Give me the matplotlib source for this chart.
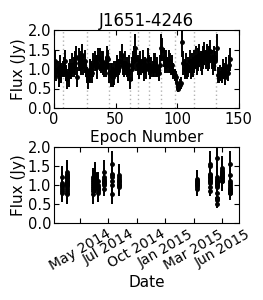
import matplotlib
matplotlib.use('Agg')
import matplotlib.pyplot as plt
import matplotlib.dates as mdates
import numpy as np
import datetime as dt

# flux per epoch (Jy)
flux = [0.85, 1.2, 0.95, 1.0, 0.8, 1.05, 0.9, 1.0,
        1.05, 1.2, 0.9, 0.75, 0.85, 1.0, 0.95, 1.1, 1.05, 1.15, 1.3, 0.8, 1.25, 1.2, 1.05, 1.35, 1.1, 1.2, 1.0,
        0.85, 0.75, 0.95, 1.0, 0.9, 1.1, 1.2, 1.15, 1.05, 1.3, 1.25, 1.1, 1.2, 1.15, 1.0, 1.05, 1.3, 1.25,
        0.9, 0.85, 0.95, 0.8, 0.9, 1.0, 1.1, 0.95, 1.05, 1.2, 1.35, 1.1, 1.0, 1.15, 1.05, 0.9, 1.1,
        0.75, 1.0, 1.2, 1.3, 1.55, 1.25, 1.1,
        1.0, 1.15, 1.05, 1.2, 0.95, 1.1, 1.0, 1.25, 1.1,
        0.95, 1.05, 1.0, 1.1, 1.15, 1.0, 1.05, 0.9, 1.1,
        1.55, 1.5, 1.3, 1.2, 1.25, 1.1, 1.2, 1.15, 1.05, 1.1, 0.95, 0.85,
        0.8, 0.65, 0.5, 0.6, 0.65, 1.7, 1.15, 1.0, 1.1, 0.95, 1.05, 1.2, 1.0, 1.1, 1.05,
        1.2, 1.3, 1.1, 1.25, 1.35, 1.2, 1.15, 1.3, 1.4, 1.25, 1.35, 1.2, 1.3, 1.45, 1.25, 1.1, 1.3, 1.2,
        1.55, 0.85, 0.8, 0.9, 0.85, 1.0, 0.95, 0.8, 1.05, 0.9, 1.1, 1.25]

flux_err = [0.25, 0.3, 0.25, 0.2, 0.25, 0.3, 0.25, 0.2,
            0.25, 0.3, 0.2, 0.25, 0.3, 0.25, 0.2, 0.3, 0.25, 0.3, 0.3, 0.25, 0.3, 0.25, 0.2, 0.3, 0.25, 0.3, 0.2,
            0.2, 0.25, 0.3, 0.2, 0.25, 0.3, 0.25, 0.2, 0.3, 0.25, 0.3, 0.2, 0.25, 0.3, 0.2, 0.25, 0.3, 0.25,
            0.25, 0.3, 0.2, 0.25, 0.3, 0.2, 0.25, 0.3, 0.2, 0.25, 0.3, 0.25, 0.2, 0.3, 0.25, 0.2, 0.25,
            0.25, 0.3, 0.25, 0.3, 0.35, 0.3, 0.25,
            0.25, 0.3, 0.2, 0.3, 0.25, 0.2, 0.25, 0.3, 0.25,
            0.2, 0.25, 0.2, 0.3, 0.25, 0.2, 0.25, 0.2, 0.25,
            0.35, 0.3, 0.25, 0.3, 0.25, 0.2, 0.3, 0.25, 0.2, 0.25, 0.2, 0.15,
            0.15, 0.15, 0.1, 0.15, 0.15, 0.4, 0.3, 0.25, 0.3, 0.2, 0.25, 0.3, 0.25, 0.3, 0.25,
            0.3, 0.3, 0.25, 0.3, 0.3, 0.25, 0.3, 0.3, 0.3, 0.25, 0.3, 0.25, 0.3, 0.3, 0.25, 0.25, 0.3, 0.25,
            0.35, 0.2, 0.15, 0.2, 0.2, 0.25, 0.2, 0.2, 0.25, 0.2, 0.25, 0.3]

# observing sessions: date and number of epochs in each
session_dates = ['2014-03-20', '2014-04-03', '2014-06-15', '2014-06-21', '2014-06-30',
                 '2014-07-17', '2014-08-07', '2014-08-28', '2015-04-03', '2015-05-10',
                 '2015-05-29', '2015-06-12', '2015-07-05']
session_sizes = [8, 19, 9, 9, 8, 9, 7, 9, 9, 12, 15, 18, 12]

# session boundaries drawn in the epoch panel
boundaries = [7.5, 26.5, 44.5, 61.5, 68.5, 77.5, 86.5, 98.5, 113.5, 131.5]

date_ticks = ['2014-05-10', '2014-07-29', '2014-10-17', '2015-01-05', '2015-03-26', '2015-06-14']
date_lim = ['2014-02-26', '2015-07-30']

plt.rcParams['font.family'] = 'DejaVu Sans'
plt.rcParams['xtick.direction'] = 'in'
plt.rcParams['ytick.direction'] = 'in'
plt.rcParams['xtick.top'] = True
plt.rcParams['ytick.right'] = True
plt.rcParams['xtick.major.size'] = 3.5
plt.rcParams['ytick.major.size'] = 3.5
plt.rcParams['xtick.major.pad'] = 3
plt.rcParams['ytick.major.pad'] = 2

epochs = np.arange(len(flux))
tolist = lambda s: dt.datetime.strptime(s, '%Y-%m-%d')
dates = np.repeat([tolist(d) for d in session_dates], session_sizes)

fig = plt.figure(figsize=(2.63, 3.0), dpi=100)
ax1 = fig.add_axes([0.205, 0.64, 0.703, 0.26])
ax2 = fig.add_axes([0.205, 0.257, 0.703, 0.253])

for b in boundaries:
    ax1.axvline(b, color='0.7', linestyle=(0, (1, 2)), lw=1)
ax1.errorbar(epochs, flux, yerr=flux_err, fmt='ko', ms=2.5, elinewidth=1.4, capsize=0)
ax1.set_xlim(0, 150)
ax1.set_ylim(0, 2.0)
ax1.set_xticks([0, 50, 100, 150])
ax1.set_yticks([0.0, 0.5, 1.0, 1.5, 2.0])
ax1.set_xlabel('Epoch Number', fontsize=11, labelpad=2)
ax1.set_ylabel('Flux (Jy)', fontsize=11, labelpad=1)
ax1.set_title('J1651-4246', fontsize=12, pad=2)

ax2.errorbar(dates, flux, yerr=flux_err, fmt='ko', ms=2.5, elinewidth=1.4, capsize=0)
ax2.set_xlim(tolist(date_lim[0]), tolist(date_lim[1]))
ax2.set_ylim(0, 2.0)
ax2.set_yticks([0.0, 0.5, 1.0, 1.5, 2.0])
ax2.set_xticks([tolist(d) for d in date_ticks])
ax2.xaxis.set_major_formatter(mdates.DateFormatter('%b %Y'))
ax2.set_xlabel('Date', fontsize=11, labelpad=1)
ax2.set_ylabel('Flux (Jy)', fontsize=11, labelpad=1)

for ax in (ax1, ax2):
    ax.tick_params(labelsize=10.5)
ax2.tick_params(axis='x', labelsize=10)
for lab in ax2.get_xticklabels():
    lab.set_rotation(30)
    lab.set_ha('center')

fig.savefig('out.png', dpi=100, facecolor='white')
